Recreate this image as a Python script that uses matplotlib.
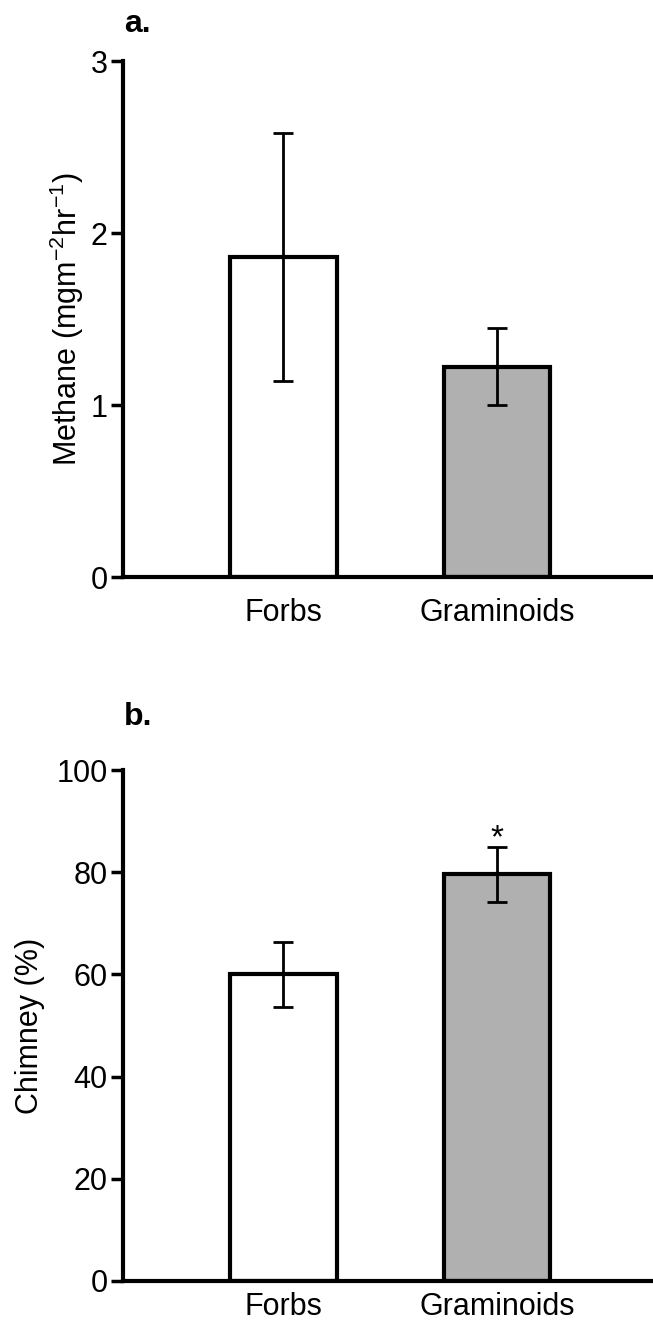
import numpy as np
import matplotlib
matplotlib.use("Agg")
import matplotlib.pyplot as plt

plt.rcParams['font.family'] = ['Liberation Sans', 'DejaVu Sans']
plt.rcParams['mathtext.default'] = 'regular'

# data
groups = ['Forbs', 'Graminoids']
bar_colors = ['white', '#b0b0b0']

methane_mean = [1.86, 1.22]
methane_err_low = [1.14, 1.00]
methane_err_high = [2.58, 1.45]

chimney_mean = [60.0, 79.6]
chimney_err_low = [53.7, 74.1]
chimney_err_high = [66.4, 85.0]

fig = plt.figure(figsize=(6.53, 13.21), dpi=100)
ax1 = fig.add_axes([0.1884, 0.5632, 0.8116, 0.3906])
ax2 = fig.add_axes([0.1884, 0.0303, 0.8116, 0.3868])

x = np.array([1, 2])


def draw_panel(ax, mean, lo, hi, ylim, yticks, ylabel, lpad, xpad):
    mean = np.array(mean)
    yerr = [mean - np.array(lo), np.array(hi) - mean]
    ax.bar(x, mean, width=0.5, color=bar_colors, edgecolor='black', linewidth=3, zorder=2)
    ax.errorbar(x, mean, yerr=yerr, fmt='none', ecolor='black', elinewidth=2,
                capsize=7.5, capthick=2, zorder=3)
    ax.set_xlim(0.25, 2.73)
    ax.set_ylim(*ylim)
    ax.set_yticks(yticks)
    ax.set_xticks(x)
    ax.set_xticklabels(groups)
    for s in ['top', 'right']:
        ax.spines[s].set_visible(False)
    for s in ['left', 'bottom']:
        ax.spines[s].set_linewidth(3)
    ax.tick_params(axis='y', direction='out', length=9, width=2.5, labelsize=22, pad=2)
    ax.tick_params(axis='x', length=0, labelsize=22, pad=xpad)
    ax.set_ylabel(ylabel, fontsize=22, labelpad=lpad)


draw_panel(ax1, methane_mean, methane_err_low, methane_err_high,
           (0, 3), [0, 1, 2, 3], 'Methane (mgm$^{-2}$hr$^{-1}$)', 3, 15)

draw_panel(ax2, chimney_mean, chimney_err_low, chimney_err_high,
           (0, 100), [0, 20, 40, 60, 80, 100], 'Chimney (%)', 8, 8)
ax2.text(2, 86.5, '*', ha='center', va='center', fontsize=24)

fig.text(0.19, 0.982, 'a.', fontsize=23, fontweight='bold', ha='left', va='center')
fig.text(0.19, 0.4572, 'b.', fontsize=23, fontweight='bold', ha='left', va='center')

fig.savefig('out.png', dpi=100)
